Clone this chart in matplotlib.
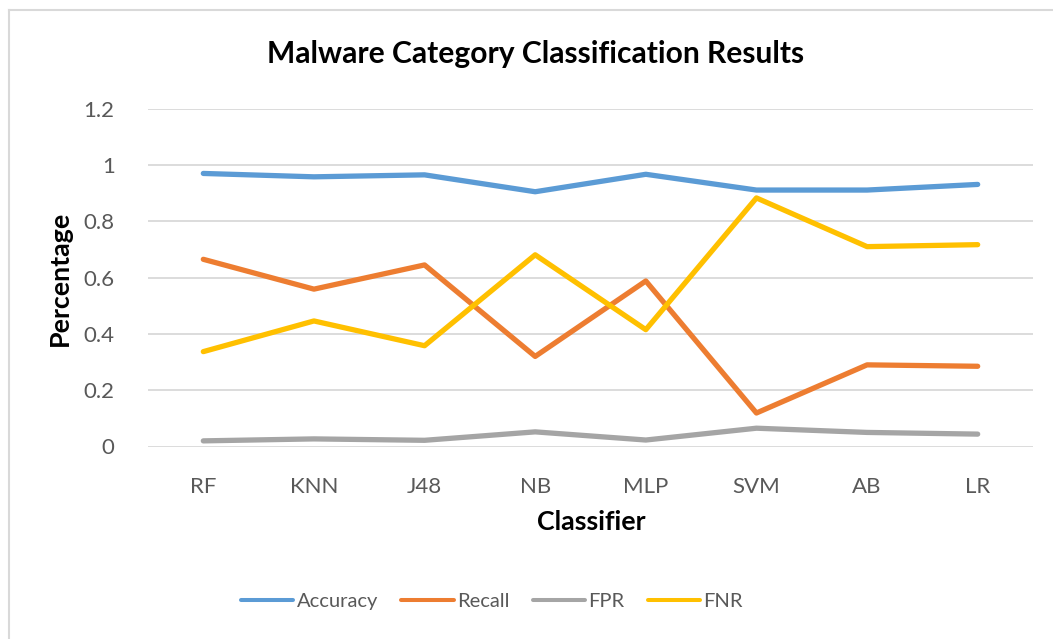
import matplotlib
matplotlib.use("Agg")
import matplotlib.pyplot as plt
from matplotlib.lines import Line2D

# donnees
classifiers = ["RF", "KNN", "J48", "NB", "MLP", "SVM", "AB", "LR"]
accuracy = [0.970, 0.958, 0.965, 0.905, 0.967, 0.911, 0.911, 0.931]
recall = [0.665, 0.559, 0.645, 0.320, 0.588, 0.119, 0.290, 0.285]
fpr = [0.020, 0.027, 0.022, 0.052, 0.023, 0.065, 0.050, 0.044]
fnr = [0.337, 0.446, 0.358, 0.681, 0.415, 0.883, 0.710, 0.717]
y_ticks = [0, 0.2, 0.4, 0.6, 0.8, 1, 1.2]
y_tick_labels = ["0", "0.2", "0.4", "0.6", "0.8", "1", "1.2"]

plt.rcParams['font.family'] = ['Lato', 'DejaVu Sans']

W, H = 1053, 639
fig = plt.figure(figsize=(W / 100, H / 100), dpi=100)

# position de la zone de trace (en pixels)
left, right, top, bottom = 148, 1033, 108.7, 446.5
ax = fig.add_axes([left / W, 1 - bottom / H, (right - left) / W, (bottom - top) / H])

series = [("Accuracy", accuracy, "#5B9BD5"),
          ("Recall", recall, "#ED7D31"),
          ("FPR", fpr, "#A5A5A5"),
          ("FNR", fnr, "#FFC000")]

x = list(range(len(classifiers)))
for name, vals, col in series:
    ax.plot(x, vals, color=col, lw=3.8, solid_capstyle='round', solid_joinstyle='round', label=name)

ax.set_xlim(-0.5, len(classifiers) - 0.5)
ax.set_ylim(0, 1.2)
ax.set_yticks(y_ticks)
ax.set_yticklabels(y_tick_labels)
ax.set_xticks(x)
ax.set_xticklabels(classifiers)
ax.tick_params(axis='both', length=0, labelsize=16, colors="#595959")
ax.tick_params(axis='y', pad=24)
ax.tick_params(axis='x', pad=22)
ax.grid(axis='y', color="#D9D9D9", lw=1.3)
ax.set_axisbelow(True)
for s in ax.spines.values():
    s.set_visible(False)

# titre et labels
fig.text(536 / W, 1 - 54 / H, "Malware Category Classification Results", ha='center', va='center',
         fontsize=21.6, fontweight='bold', color='black')
fig.text(60 / W, 1 - 278 / H, "Percentage", ha='center', va='center', rotation=90,
         fontsize=19.3, fontweight='bold', color='black')
fig.text(591 / W, 1 - 522 / H, "Classifier", ha='center', va='center',
         fontsize=19.3, fontweight='bold', color='black')

# legende
handles = [Line2D([0], [0], color=c, lw=2.9, solid_capstyle='round') for _, _, c in series]
leg = fig.legend(handles, [n for n, _, _ in series], loc='center', ncol=4,
                 bbox_to_anchor=(492 / W, 1 - 601 / H), frameon=False, fontsize=14.5,
                 handlelength=2.6, handletextpad=0.17, columnspacing=1.15)
for t in leg.get_texts():
    t.set_color("#595959")

# cadre du graphique
fig.add_artist(Line2D([9 / W, 9 / W], [0, 1 - 10 / H], color="#D9D9D9", lw=1.5))
fig.add_artist(Line2D([9 / W, 1], [1 - 10 / H, 1 - 10 / H], color="#D9D9D9", lw=1.5))

fig.savefig("out.png", dpi=100)
